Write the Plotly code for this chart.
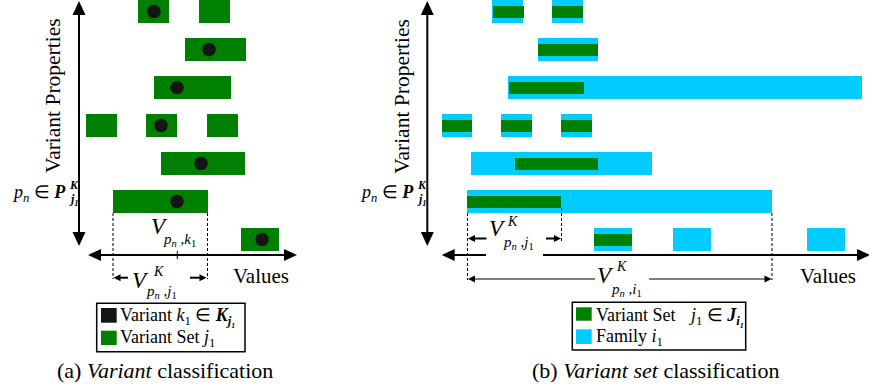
import plotly.graph_objects as go

# ---------------- data ----------------
# Panel (a): variant sets (green) per property row, and variants (black dots)
a_set_row   = [0, 0, 1, 2, 3, 3, 3, 4, 5, 6]
a_set_start = [138, 199, 185, 154, 86, 146, 207, 161, 113, 241]
a_set_end   = [169, 230, 246, 231, 117, 177, 238, 245, 208, 279]
a_var_row   = [0, 1, 2, 3, 4, 5, 6]
a_var_value = [154, 209, 177, 161, 201, 177, 262]

# Panel (b): families (cyan) and variant sets (green)
b_fam_row   = [0, 0, 1, 2, 3, 3, 3, 4, 5, 6, 6, 6]
b_fam_start = [492, 552, 538, 508, 442, 501, 561, 471, 467, 594, 673, 807]
b_fam_end   = [523, 583, 598, 862, 472, 532, 592, 652, 772, 632, 711, 845]
b_set_row   = [0, 0, 1, 2, 3, 3, 3, 4, 5, 6]
b_set_start = [493, 552, 538, 509, 442, 501, 561, 515, 467, 594]
b_set_end   = [524, 583, 598, 584, 472, 532, 592, 598, 561, 632]

GREEN = "#008000"
CYAN = "#00CCFF"
DOT = "#151515"
SERIF = "Liberation Serif"

fig = go.Figure()

def hbars(rows, starts, ends, color, width):
    fig.add_trace(go.Bar(
        y=rows, base=starts, x=[e - s for s, e in zip(starts, ends)],
        orientation="h", width=width, marker=dict(color=color, line=dict(width=0)),
        hoverinfo="skip"))

hbars(a_set_row, a_set_start, a_set_end, GREEN, 0.605)
fig.add_trace(go.Scatter(x=a_var_value, y=a_var_row, mode="markers",
                         marker=dict(size=13.5, color=DOT), hoverinfo="skip"))
hbars(b_fam_row, b_fam_start, b_fam_end, CYAN, 0.605)
hbars(b_set_row, b_set_start, b_set_end, GREEN, 0.316)

# ---------------- decorations (pixel frame on x / y2) ----------------
shapes = []
anns = []

def line(x0, y0, x1, y1, w=2, dash=None):
    d = dict(type="line", xref="x", yref="y2", x0=x0, y0=y0, x1=x1, y1=y1,
             line=dict(color="black", width=w))
    if dash:
        d["line"]["dash"] = dash
    shapes.append(d)

def tri(tx, ty, direction, length, half):
    if direction == "up":
        pts = [(tx, ty), (tx - half, ty + length), (tx + half, ty + length)]
    elif direction == "down":
        pts = [(tx, ty), (tx - half, ty - length), (tx + half, ty - length)]
    elif direction == "left":
        pts = [(tx, ty), (tx + length, ty - half), (tx + length, ty + half)]
    else:
        pts = [(tx, ty), (tx - length, ty - half), (tx - length, ty + half)]
    path = "M " + " L ".join(f"{x},{y}" for x, y in pts) + " Z"
    shapes.append(dict(type="path", xref="x", yref="y2", path=path,
                       fillcolor="black", line=dict(width=0)))

def rect(x0, y0, x1, y1, fill, lw=0):
    shapes.append(dict(type="rect", xref="x", yref="y2", x0=x0, y0=y0, x1=x1, y1=y1,
                       fillcolor=fill, line=dict(color="black", width=lw)))

def txt(x, y, s, size, xanchor="left", yanchor="middle", angle=0):
    anns.append(dict(x=x, y=y, xref="x", yref="y2", text=s, showarrow=False,
                     font=dict(family=SERIF, size=size, color="black"),
                     xanchor=xanchor, yanchor=yanchor, textangle=angle,
                     borderpad=0))

# ---- Panel (a) axes ----
line(79, 12, 79, 234, 2)
tri(79, 1, "up", 14, 6.5)
tri(79, 246, "down", 14, 6.5)
line(98, 255, 287, 255, 2)
tri(88, 255, "left", 13, 6)
tri(297, 255, "right", 13, 6)
line(177.3, 251, 177.3, 259, 1)
# dashed guides
line(113, 213, 113, 279, 1, "3px,2px")
line(207.5, 213, 207.5, 279, 1, "3px,2px")
# small dimension arrows
line(119, 277.7, 128, 277.7, 2)
tri(113.5, 277.7, "left", 7, 3.5)
line(190, 277.7, 200, 277.7, 2)
tri(206.5, 277.7, "right", 7, 3.5)

# ---- Panel (b) axes ----
line(427.3, 12, 427.3, 234, 2)
tri(427.3, 1, "up", 14, 6.5)
tri(427.3, 246, "down", 14, 6.5)
line(452, 255, 860, 255, 2)
tri(441.7, 255, "left", 13, 6)
tri(870, 255, "right", 13, 6)
rect(486, 250, 543, 259, "white")
line(467.5, 213, 467.5, 280, 1, "3px,2px")
line(561.5, 208, 561.5, 241, 1, "3px,2px")
line(772, 213, 772, 280, 1, "3px,2px")
line(474, 238.5, 486.5, 238.5, 2)
tri(468, 238.5, "left", 7, 3.5)
line(546, 238.5, 555, 238.5, 2)
tri(561, 238.5, "right", 7, 3.5)
line(474, 279, 595, 279, 1)
tri(468, 279, "left", 7, 3.5)
line(649, 279, 765, 279, 1)
tri(771.5, 279, "right", 7, 3.5)

# ---- legends ----
rect(96.7, 303.3, 245, 351.7, "rgba(0,0,0,0)", 1.5)
rect(101, 308, 116.7, 322.7, DOT)
rect(101, 330.7, 116.7, 345, GREEN)
rect(572.3, 302.3, 745.7, 350, "rgba(0,0,0,0)", 1.5)
rect(576, 307.3, 591.7, 320.7, GREEN)
rect(576, 329.3, 591.7, 344, CYAN)

txt(119, 316, "Variant <i>k</i><sub>1</sub> ∈ <b><i>K</i></b><sub><b><i>j₁</i></b></sub>", 18)
txt(119, 338, "Variant Set <i>j</i><sub>1</sub>", 18)
txt(595, 315, "Variant Set", 18)
txt(688, 316, "<i>j</i><sub>1</sub> ∈ <b><i>J</i></b><sub><b><i>i₁</i></b></sub>", 18)
txt(595, 337, "Family <i>i</i><sub>1</sub>", 18)

# ---- axis titles ----
for xc in (53, 401.7):
    txt(xc, 96, "Variant Properties", 21.5, "center", "middle", -90)
txt(261, 276, "Values", 21, "center")
txt(828, 276, "Values", 21, "center")

# p_n in P^K_j1
for dx in (0, 348.3):
    txt(67 + dx, 193, "<i>p</i><sub><i>n</i></sub> ∈ <b><i>P</i></b>", 18, "right")
    txt(67.5 + dx, 185, "<b><i>K</i></b>", 12)
    txt(67.5 + dx, 200, "<b><i>j<sub>1</sub></i></b>", 12)

# V labels
SUBJ = "<i>p</i><sub><i>n</i></sub> ,<i>j</i><sub>1</sub>"
# panel a: V_{pn,k1}
txt(150, 226, "<i>V</i>", 23)
txt(162, 240, "<i>p</i><sub><i>n</i></sub> ,<i>k</i><sub>1</sub>", 15)
# panel a: V^K_{pn,j1}
txt(131, 280, "<i>V</i>", 23)
txt(152, 271, "<i>K</i>", 14)
txt(145, 292, SUBJ, 15)
# panel b: V^K_{pn,j1}
txt(488, 228, "<i>V</i>", 23)
txt(506, 221, "<i>K</i>", 14)
txt(502, 243, SUBJ, 15)
# panel b: V^K_{pn,i1}
txt(596, 275, "<i>V</i>", 23)
txt(615, 266, "<i>K</i>", 14)
txt(610, 290, "<i>p</i><sub><i>n</i></sub> ,<i>i</i><sub>1</sub>", 15)

# captions
txt(165, 370, "(a) <i>Variant</i> classification", 22, "center")
txt(655, 370, "(b) <i>Variant set</i> classification", 22, "center")

fig.update_layout(
    width=869, height=387, autosize=False,
    margin=dict(l=0, r=0, t=0, b=0),
    paper_bgcolor="white", plot_bgcolor="white",
    showlegend=False, barmode="overlay", bargap=0,
    font=dict(family=SERIF),
    xaxis=dict(range=[0, 869], visible=False, fixedrange=True),
    yaxis=dict(range=[(387 - 11.5) / 38, -11.5 / 38], visible=False, fixedrange=True),
    yaxis2=dict(range=[387, 0], overlaying="y", visible=False, fixedrange=True),
    shapes=shapes, annotations=anns,
)

fig.write_html("out.html", config={"displayModeBar": False},
               post_script="document.body.style.margin='0';document.body.style.padding='0';")
